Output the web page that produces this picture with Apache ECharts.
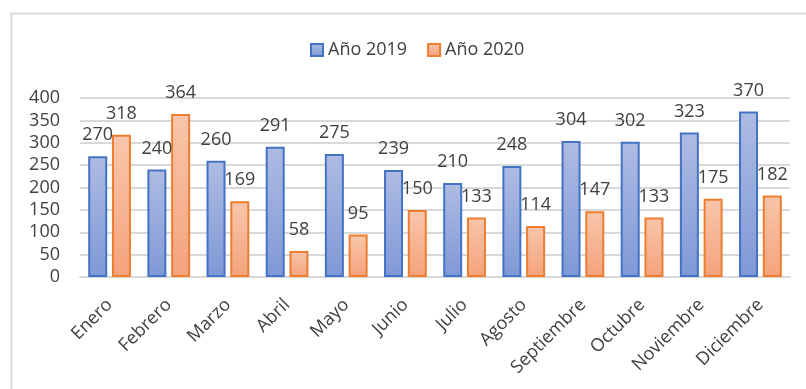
<!DOCTYPE html>
<html>
<head>
<meta charset="utf-8">
<script src="https://cdn.jsdelivr.net/npm/echarts@6/dist/echarts.min.js"></script>
<style>
html,body{margin:0;padding:0;background:#fff;}
#chart{width:806px;height:389px;}
</style>
</head>
<body>
<div id="chart"></div>
<script>
const months = ['Enero','Febrero','Marzo','Abril','Mayo','Junio','Julio','Agosto','Septiembre','Octubre','Noviembre','Diciembre'];
const year2019 = [270,240,260,291,275,239,210,248,304,302,323,370];
const year2020 = [318,364,169,58,95,150,133,114,147,133,175,182];
const seriesNames = ['Año 2019','Año 2020'];
const yTicks = {min:0, max:400, interval:50};

const FONT = '"Open Sans", sans-serif';
const TXT = '#404040';

function grad(top, bottom){
  return new echarts.graphic.LinearGradient(0,0,0,1,[{offset:0,color:top},{offset:1,color:bottom}]);
}

const chart = echarts.init(document.getElementById('chart'), null, {renderer:'canvas'});
chart.setOption({
  animation:false,
  backgroundColor:'#fff',
  textStyle:{fontFamily:FONT},
  graphic:[{
    type:'rect', left:9, top:11, silent:true,
    shape:{x:0,y:0,width:900,height:500},
    style:{fill:'none', stroke:'#d9d9d9', lineWidth:2}
  }],
  legend:{
    top:36, left:305, itemWidth:12, itemHeight:12, itemGap:20, icon:'rect',
    textStyle:{fontFamily:FONT,fontSize:18,color:TXT},
    data:seriesNames
  },
  grid:{left:80,right:16,top:98,bottom:112,containLabel:false},
  xAxis:{
    type:'category', data:months,
    axisLine:{show:true,lineStyle:{color:'#d9d9d9',width:2}},
    axisTick:{show:false},
    axisLabel:{rotate:45,fontFamily:FONT,fontSize:18,color:TXT,margin:25,interval:0}
  },
  yAxis:{
    type:'value', min:yTicks.min, max:yTicks.max, interval:yTicks.interval,
    axisLine:{show:false}, axisTick:{show:false},
    splitLine:{lineStyle:{color:'#d9d9d9',width:2}},
    axisLabel:{fontFamily:FONT,fontSize:18,color:TXT,margin:20}
  },
  series:[
    {
      name:seriesNames[0], type:'bar', data:year2019, barWidth:19, barGap:'25%',
      itemStyle:{color:grad('#aebce3','#7f98d6'), borderColor:'#4472C4', borderWidth:2},
      label:{show:true,position:'top',distance:12,fontFamily:FONT,fontSize:18,color:TXT}
    },
    {
      name:seriesNames[1], type:'bar', data:year2020, barWidth:19,
      itemStyle:{color:grad('#f8c6ab','#f4a37c'), borderColor:'#ED7D31', borderWidth:2},
      label:{show:true,position:'top',distance:12,fontFamily:FONT,fontSize:18,color:TXT}
    }
  ]
});
</script>
</body>
</html>
